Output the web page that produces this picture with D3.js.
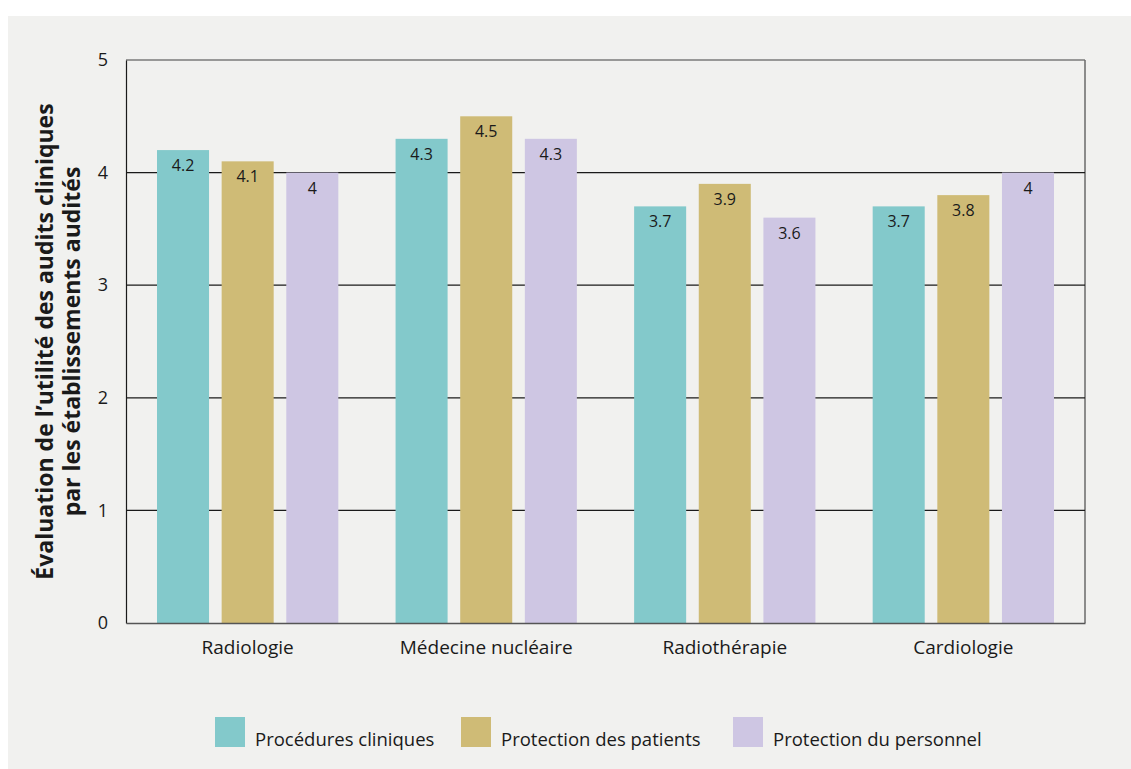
<!DOCTYPE html>
<html lang="fr">
<head>
<meta charset="utf-8">
<script src="https://cdn.jsdelivr.net/npm/d3@7"></script>
<style>
  html, body { margin: 0; padding: 0; background: #ffffff; }
  svg { display: block; font-family: "Open Sans", "Noto Sans", sans-serif; }
</style>
</head>
<body>
<svg id="chart" width="1131" height="769"></svg>
<script>
// Catégories, séries et valeurs
const categories = ["Radiologie", "Médecine nucléaire", "Radiothérapie", "Cardiologie"];
const seriesNames = ["Procédures cliniques", "Protection des patients", "Protection du personnel"];
const proceduresCliniques = [4.2, 4.3, 3.7, 3.7];
const protectionPatients = [4.1, 4.5, 3.9, 3.8];
const protectionPersonnel = [4.0, 4.3, 3.6, 4.0];
const yTicks = [0, 1, 2, 3, 4, 5];
const seriesColors = ["#83c9cb", "#cfbb76", "#cec6e3"];

const seriesValues = [proceduresCliniques, protectionPatients, protectionPersonnel];
const rows = categories.map((c, i) => ({
  category: c,
  values: seriesNames.map((s, j) => ({ series: s, value: seriesValues[j][i] }))
}));

const svg = d3.select("#chart");
const W = 1131, H = 769;

// Fond du panneau
svg.append("rect").attr("x", 8).attr("y", 16).attr("width", W - 8).attr("height", H - 16).attr("fill", "#f1f1ef");

const plot = { left: 126, right: 1085, top: 60, bottom: 623 };

const x0 = d3.scaleBand()
  .domain(categories)
  .range([plot.left, plot.right])
  .paddingInner(0.24)
  .paddingOuter(0.13);

const x1 = d3.scaleBand()
  .domain(seriesNames)
  .range([0, x0.bandwidth()])
  .paddingInner(0.195)
  .paddingOuter(0);

const y = d3.scaleLinear().domain([0, 5]).range([plot.bottom, plot.top]);
const color = d3.scaleOrdinal().domain(seriesNames).range(seriesColors);

// Cadre supérieur et droit
svg.append("line").attr("x1", plot.left).attr("x2", plot.right)
  .attr("y1", y(5)).attr("y2", y(5)).attr("stroke", "#7a7a7a").attr("stroke-width", 1.5);
svg.append("line").attr("x1", plot.right).attr("x2", plot.right)
  .attr("y1", y(5)).attr("y2", y(0)).attr("stroke", "#6a6a6a").attr("stroke-width", 1.5);

// Lignes de grille
svg.append("g")
  .selectAll("line")
  .data(yTicks.filter(t => t > 0 && t < 5))
  .join("line")
  .attr("x1", plot.left).attr("x2", plot.right)
  .attr("y1", d => y(d)).attr("y2", d => y(d))
  .attr("stroke", "#1a1a1a").attr("stroke-width", 1.2);

// Barres
const groups = svg.append("g")
  .selectAll("g")
  .data(rows)
  .join("g")
  .attr("transform", d => `translate(${x0(d.category)},0)`);

groups.selectAll("rect")
  .data(d => d.values)
  .join("rect")
  .attr("x", d => x1(d.series))
  .attr("y", d => y(d.value))
  .attr("width", x1.bandwidth())
  .attr("height", d => y(0) - y(d.value))
  .attr("fill", d => color(d.series));

// Étiquettes de valeur
groups.selectAll("text")
  .data(d => d.values)
  .join("text")
  .attr("x", d => x1(d.series) + x1.bandwidth() / 2)
  .attr("y", d => y(d.value) + 21)
  .attr("text-anchor", "middle")
  .attr("font-size", 16)
  .attr("fill", "#1a1a1a")
  .text(d => d3.format("~g")(d.value));

// Axe vertical
const yAxis = svg.append("g")
  .attr("transform", `translate(${plot.left},0)`)
  .call(d3.axisLeft(y).tickValues(yTicks).tickFormat(d3.format("d")).tickSize(0).tickPadding(18));
yAxis.select(".domain").attr("stroke", "#1a1a1a").attr("stroke-width", 1.2);
yAxis.selectAll("text").attr("font-size", 18).attr("fill", "#1a1a1a").attr("font-family", "'Open Sans', sans-serif");

// Axe horizontal
const xAxis = svg.append("g")
  .attr("transform", `translate(0,${plot.bottom})`)
  .call(d3.axisBottom(x0).tickSize(0).tickPadding(18));
xAxis.select(".domain").attr("stroke", "#555").attr("stroke-width", 1.5);
xAxis.selectAll("text").attr("font-size", 19).attr("fill", "#1a1a1a").attr("font-family", "'Open Sans', sans-serif");

// Titre de l'axe vertical
const title = svg.append("text")
  .attr("transform", `translate(0,${(plot.top + plot.bottom) / 2}) rotate(-90)`)
  .attr("text-anchor", "middle")
  .attr("font-size", 23)
  .attr("font-weight", "bold")
  .attr("fill", "#1a1a1a");
title.append("tspan").attr("x", 0).attr("y", 53).text("Évaluation de l’utilité des audits cliniques");
title.append("tspan").attr("x", 0).attr("y", 80).text("par les établissements audités");

// Légende
const legendX = [215, 461, 733];
const legend = svg.append("g")
  .selectAll("g")
  .data(seriesNames)
  .join("g")
  .attr("transform", (d, i) => `translate(${legendX[i]},717)`);
legend.append("rect").attr("width", 30).attr("height", 30).attr("fill", d => color(d));
legend.append("text")
  .attr("x", 40).attr("y", 29)
  .attr("font-size", 18.5)
  .attr("fill", "#1a1a1a")
  .text(d => d);
</script>
</body>
</html>
